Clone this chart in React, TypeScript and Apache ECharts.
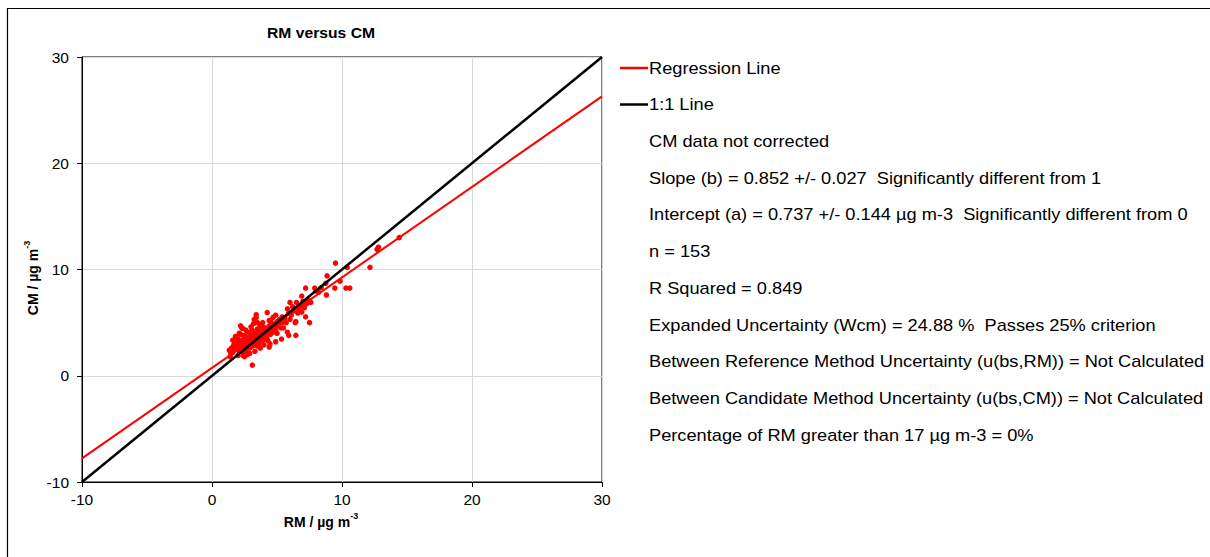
import React, { useEffect, useRef } from "react";
import * as echarts from "echarts";

// RM (reference method) values, µg m-3
const RM: number[] = [
  14.4, 12.8, 12.7, 12.15, 10.4, 9.5, 10.3, 10.6, 9.85, 9.45, 8.85, 8.75, 8.8, 8.2, 7.9, 7.2, 8.0, 8.4,
  6.9, 6.0, 6.5, 6.8, 7.0, 7.3, 6.7, 6.2, 7.2, 7.5, 6.4, 5.9, 5.5, 6.3, 5.8, 6.1, 6.6, 5.6, 5.9, 7.1,
  6.45, 5.8, 6.45, 5.4, 5.05, 5.7, 6.0, 7.4, 7.6, 6.9,
  4.25, 3.4, 3.25, 4.4, 3.4, 2.35, 2.2, 2.1, 1.6, 1.33, 1.46, 3.1, 2.5, 3.6, 4.4, 4.9, 4.6, 5.35, 4.46, 2.4,
  1.65, 2.3,
  1.5, 1.7, 1.8, 1.9, 2.0, 2.0, 2.1, 2.2, 2.3, 2.4, 2.5, 2.5, 2.6, 2.6, 2.7, 2.7, 2.8, 2.8, 2.9, 2.9,
  3.0, 3.0, 3.1, 3.1, 3.2, 3.2, 3.3, 3.3, 3.4, 3.4, 3.5, 3.5, 3.6, 3.6, 3.7, 3.7, 3.8, 3.8, 3.9, 3.9,
  4.0, 4.0, 4.1, 4.1, 4.2, 4.2, 4.3, 4.4, 4.5, 4.5, 4.6, 4.7, 4.8, 4.9, 5.0, 5.0, 5.1, 5.2, 5.3, 5.4,
  1.8, 2.2, 2.6, 3.0, 3.5, 3.9, 2.9, 3.3, 3.7, 2.0, 1.6, 1.4, 2.4, 3.5, 4.0, 4.3, 2.7, 2.3, 1.9, 3.2,
  3.9, 4.7, 4.9,
];

// CM (candidate method) values, µg m-3
const CM: number[] = [
  13.0, 12.1, 11.9, 10.2, 10.2, 10.6, 8.25, 8.25, 8.9, 8.25, 9.4, 8.7, 7.6, 7.85, 8.25, 8.25, 8.0, 8.3,
  7.5, 6.9, 6.9, 6.6, 7.0, 6.8, 6.2, 6.5, 5.55, 5.0, 5.0, 3.8, 4.5, 6.1, 6.3, 5.7, 5.9, 5.4, 5.9, 6.4,
  5.1, 4.1, 3.8, 5.55, 4.7, 5.0, 5.3, 7.1, 6.9, 6.0,
  5.95, 5.5, 5.3, 5.2, 5.75, 4.45, 4.7, 4.0, 3.35, 2.4, 2.1, 1.0, 1.8, 3.35, 2.7, 3.2, 4.2, 3.45, 3.0, 1.9,
  2.8, 4.5,
  2.6, 3.0, 2.5, 3.2, 2.8, 3.5, 2.3, 3.1, 2.7, 3.4, 2.9, 3.8, 2.4, 3.2, 3.6, 2.8, 3.0, 4.1, 2.6, 3.4,
  3.1, 3.8, 2.8, 4.3, 3.3, 3.6, 2.9, 4.0, 3.5, 3.1, 3.8, 4.4, 3.0, 4.0, 3.6, 4.7, 3.3, 4.2, 3.9, 3.5,
  4.1, 3.4, 4.5, 3.8, 4.0, 3.6, 4.3, 4.7, 3.9, 4.4, 5.0, 4.1, 4.6, 4.3, 5.1, 4.0, 4.8, 5.3, 4.5, 5.0,
  3.7, 3.9, 4.3, 4.6, 5.0, 5.0, 2.1, 2.3, 2.6, 1.9, 2.2, 1.8, 2.2, 2.8, 2.9, 3.3, 2.0, 3.3, 2.7, 4.9,
  4.6, 5.5, 5.7,
];

const SLOPE = 0.852;
const INTERCEPT = 0.737;
const AXIS_MIN = -10;
const AXIS_MAX = 30;
const AXIS_TICKS = [-10, 0, 10, 20, 30];

const TITLE = "RM versus CM";
const LEGEND_ITEMS = [
  { name: "Regression Line", color: "#ff0000" },
  { name: "1:1 Line", color: "#000000" },
];
const STAT_LINES: string[] = [
  "CM data not corrected",
  "Slope (b) = 0.852 +/- 0.027  Significantly different from 1",
  "Intercept (a) = 0.737 +/- 0.144 µg m-3  Significantly different from 0",
  "n = 153",
  "R Squared = 0.849",
  "Expanded Uncertainty (Wcm) = 24.88 %  Passes 25% criterion",
  "Between Reference Method Uncertainty (u(bs,RM)) = Not Calculated",
  "Between Candidate Method Uncertainty (u(bs,CM)) = Not Calculated",
  "Percentage of RM greater than 17 µg m-3 = 0%",
];

const FONT = "'Liberation Sans', Arial, sans-serif";
const TEXT_SCALE_X = 1.072;

export default function App() {
  const ref = useRef<HTMLDivElement>(null);

  useEffect(() => {
    if (!ref.current) return;
    const chart = echarts.init(ref.current, null, { renderer: "svg" });

    const points = RM.map((x, i) => [x, CM[i]]);
    const regression = [
      [AXIS_MIN, SLOPE * AXIS_MIN + INTERCEPT],
      [AXIS_MAX, SLOPE * AXIS_MAX + INTERCEPT],
    ];
    const oneToOne = [
      [AXIS_MIN, AXIS_MIN],
      [AXIS_MAX, AXIS_MAX],
    ];

    const nameRich = {
      b: { font: `bold 14px ${FONT}`, fill: "#000", verticalAlign: "bottom", lineHeight: 17 },
      s: { font: `bold 9px ${FONT}`, fill: "#000", verticalAlign: "top", lineHeight: 17 },
    };

    const graphics: any[] = [
      {
        type: "rect",
        shape: { x: 7.5, y: 8.5, width: 1230, height: 580 },
        style: { fill: "none", stroke: "#000", lineWidth: 1.2 },
        silent: true,
      },
      {
        type: "text",
        x: 321,
        y: 33,
        scaleX: 1.12,
        style: {
          text: TITLE,
          font: `bold 14px ${FONT}`,
          fill: "#000",
          align: "center",
          verticalAlign: "middle",
        },
      },
      {
        type: "text",
        x: 321,
        y: 520,
        style: {
          text: "{b|RM / µg m}{s|-3}",
          align: "center",
          verticalAlign: "middle",
          rich: nameRich,
        },
      },
      {
        type: "text",
        x: 31,
        y: 278,
        rotation: Math.PI / 2,
        style: {
          text: "{b|CM / µg m}{s|-3}",
          align: "center",
          verticalAlign: "middle",
          rich: nameRich,
        },
      },
    ];

    LEGEND_ITEMS.forEach((item, i) => {
      const y = 68 + i * 36.5;
      graphics.push({
        type: "line",
        shape: { x1: 620, y1: y, x2: 648, y2: y },
        style: { stroke: item.color, lineWidth: 2.5 },
      });
      graphics.push({
        type: "text",
        x: 649,
        y: y,
        scaleX: TEXT_SCALE_X,
        style: {
          text: item.name,
          font: `17px ${FONT}`,
          fill: "#000",
          verticalAlign: "middle",
        },
      });
    });

    STAT_LINES.forEach((line, i) => {
      graphics.push({
        type: "text",
        x: 649,
        y: 141 + i * 36.75,
        scaleX: TEXT_SCALE_X,
        style: {
          text: line,
          font: `17px ${FONT}`,
          fill: "#000",
          verticalAlign: "middle",
        },
      });
    });

    const axisCommon = {
      type: "value" as const,
      min: AXIS_MIN,
      max: AXIS_MAX,
      interval: 10,
      axisLine: { show: true, onZero: false, lineStyle: { color: "#000", width: 1 } },
      axisTick: { show: true, inside: false, length: 5, lineStyle: { color: "#000" } },
      splitLine: { show: true, lineStyle: { color: "#d9d9d9", width: 1 } },
      axisLabel: {
        color: "#000",
        fontFamily: FONT,
        fontSize: 15.5,
        formatter: (v: number) => (AXIS_TICKS.includes(v) ? String(v) : ""),
      },
    };

    chart.setOption({
      animation: false,
      backgroundColor: "#fff",
      grid: {
        left: 82,
        top: 57,
        width: 520,
        height: 425,
        show: true,
        borderColor: "#000",
        borderWidth: 1,
        backgroundColor: "transparent",
      },
      xAxis: { ...axisCommon, axisLabel: { ...axisCommon.axisLabel, margin: 9 } },
      yAxis: { ...axisCommon, axisLabel: { ...axisCommon.axisLabel, margin: 13 } },
      series: [
        {
          name: "Data",
          type: "scatter",
          data: points,
          symbol: "circle",
          symbolSize: 5.5,
          itemStyle: { color: "#ff0000", opacity: 1 },
          silent: true,
        },
        {
          name: "Regression Line",
          type: "line",
          data: regression,
          showSymbol: false,
          lineStyle: { color: "#ff0000", width: 2 },
          silent: true,
        },
        {
          name: "1:1 Line",
          type: "line",
          data: oneToOne,
          showSymbol: false,
          lineStyle: { color: "#000", width: 2.5 },
          silent: true,
        },
      ],
      graphic: graphics,
    });

    return () => chart.dispose();
  }, []);

  return (
    <div
      ref={ref}
      style={{ position: "absolute", left: 0, top: 0, width: 1210, height: 557, background: "#fff" }}
    />
  );
}
